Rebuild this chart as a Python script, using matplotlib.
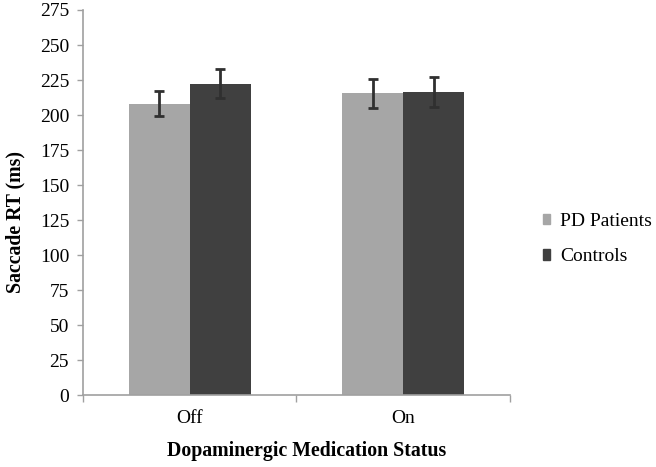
import matplotlib
matplotlib.use("Agg")
import matplotlib.pyplot as plt
import numpy as np
from matplotlib.patches import Patch

categories = ["Off", "On"]
series_names = ["PD Patients", "Controls"]
pd_means = [208, 215.5]
pd_err = [9, 10.5]
ctrl_means = [222.5, 216.5]
ctrl_err = [10.5, 10.5]
yticks = list(range(0, 276, 25))

plt.rcParams['font.family'] = ['Liberation Serif', 'DejaVu Serif']

fig = plt.figure(figsize=(6.56, 4.67), dpi=100)
ax = fig.add_axes([0.1265, 0.154, 0.6509, 0.8246])

x = np.arange(len(categories))
w = 0.285
c_pd = "#a6a6a6"
c_ct = "#404040"
ekw = dict(ecolor="#303030", elinewidth=2, capsize=3.5, capthick=2)
ax.bar(x - w/2, pd_means, w, color=c_pd, yerr=pd_err, error_kw=ekw, zorder=2)
ax.bar(x + w/2, ctrl_means, w, color=c_ct, yerr=ctrl_err, error_kw=ekw, zorder=2)

ax.set_xlim(-0.5, 1.5)
ax.set_ylim(0, 275)
ax.set_yticks(yticks)
ax.set_yticklabels([str(v) for v in yticks], fontsize=14)
ax.set_xticks(x)
ax.set_xticklabels(categories, fontsize=14)
ax.tick_params(axis='x', length=0, pad=11)
ax.set_xticks([-0.5, 0.5, 1.5], minor=True)
ax.tick_params(axis='x', which='minor', length=5, color="#a0a0a0", width=1)
ax.tick_params(axis='y', length=4, color="#a0a0a0", width=1, pad=6)

for s in ["top", "right"]:
    ax.spines[s].set_visible(False)
for s in ["left", "bottom"]:
    ax.spines[s].set_color("#a0a0a0")
    ax.spines[s].set_linewidth(1.2)

ax.set_ylabel("Saccade RT (ms)", fontsize=14.3, fontweight="bold", labelpad=10)
ax.yaxis.label.set_y(0.449)
ax.set_xlabel("Dopaminergic Medication Status", fontsize=14.3, fontweight="bold", labelpad=10)
ax.xaxis.label.set_x(0.5246)

handles = [Patch(color=c_pd), Patch(color=c_ct)]
fig.legend(handles, series_names, loc="center left", bbox_to_anchor=(0.801, 0.488),
           frameon=False, fontsize=14, handlelength=0.38, handleheight=0.45,
           handletextpad=0.5, labelspacing=0.95)

fig.savefig("out.png", dpi=100)
